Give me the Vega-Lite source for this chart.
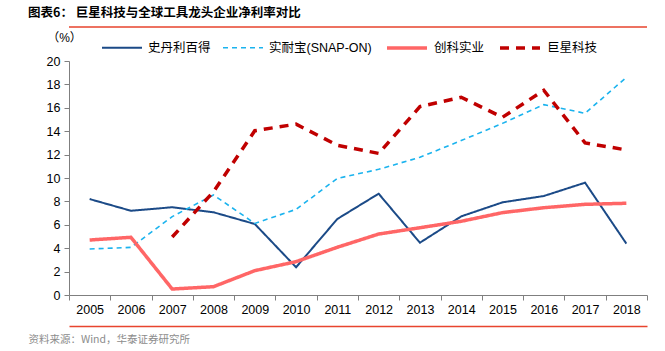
{
  "$schema": "https://vega.github.io/schema/vega-lite/v6.json",
  "autosize": {"type": "none"},
  "width": 578,
  "height": 234,
  "padding": {"left": 69, "top": 61, "right": 18, "bottom": 56},
  "background": "white",
  "config": {
    "font": "Liberation Sans, Noto Sans CJK SC",
    "view": {"stroke": null}
  },
  "title": {
    "text": "图表6：   巨星科技与全球工具龙头企业净利率对比",
    "anchor": "start",
    "frame": "group",
    "dx": -41,
    "offset": 7,
    "fontSize": 12.5,
    "fontWeight": "bold",
    "font": "Noto Sans CJK SC",
    "color": "#000000"
  },
  "data": {
    "values": [
      {"year": "2005", "company": "史丹利百得", "value": 8.2},
      {"year": "2006", "company": "史丹利百得", "value": 7.2},
      {"year": "2007", "company": "史丹利百得", "value": 7.5},
      {"year": "2008", "company": "史丹利百得", "value": 7.07},
      {"year": "2009", "company": "史丹利百得", "value": 6.07},
      {"year": "2010", "company": "史丹利百得", "value": 2.37},
      {"year": "2011", "company": "史丹利百得", "value": 6.5},
      {"year": "2012", "company": "史丹利百得", "value": 8.66},
      {"year": "2013", "company": "史丹利百得", "value": 4.47},
      {"year": "2014", "company": "史丹利百得", "value": 6.72},
      {"year": "2015", "company": "史丹利百得", "value": 7.92},
      {"year": "2016", "company": "史丹利百得", "value": 8.46},
      {"year": "2017", "company": "史丹利百得", "value": 9.6},
      {"year": "2018", "company": "史丹利百得", "value": 4.39},
      {"year": "2005", "company": "实耐宝(SNAP-ON)", "value": 3.93},
      {"year": "2006", "company": "实耐宝(SNAP-ON)", "value": 4.07},
      {"year": "2007", "company": "实耐宝(SNAP-ON)", "value": 6.7},
      {"year": "2008", "company": "实耐宝(SNAP-ON)", "value": 8.55},
      {"year": "2009", "company": "实耐宝(SNAP-ON)", "value": 6.12},
      {"year": "2010", "company": "实耐宝(SNAP-ON)", "value": 7.32},
      {"year": "2011", "company": "实耐宝(SNAP-ON)", "value": 9.97},
      {"year": "2012", "company": "实耐宝(SNAP-ON)", "value": 10.74},
      {"year": "2013", "company": "实耐宝(SNAP-ON)", "value": 11.77},
      {"year": "2014", "company": "实耐宝(SNAP-ON)", "value": 13.2},
      {"year": "2015", "company": "实耐宝(SNAP-ON)", "value": 14.67},
      {"year": "2016", "company": "实耐宝(SNAP-ON)", "value": 16.27},
      {"year": "2017", "company": "实耐宝(SNAP-ON)", "value": 15.53},
      {"year": "2018", "company": "实耐宝(SNAP-ON)", "value": 18.6},
      {"year": "2005", "company": "创科实业", "value": 4.7},
      {"year": "2006", "company": "创科实业", "value": 4.93},
      {"year": "2007", "company": "创科实业", "value": 0.51},
      {"year": "2008", "company": "创科实业", "value": 0.71},
      {"year": "2009", "company": "创科实业", "value": 2.08},
      {"year": "2010", "company": "创科实业", "value": 2.85},
      {"year": "2011", "company": "创科实业", "value": 4.08},
      {"year": "2012", "company": "创科实业", "value": 5.21},
      {"year": "2013", "company": "创科实业", "value": 5.75},
      {"year": "2014", "company": "创科实业", "value": 6.3},
      {"year": "2015", "company": "创科实业", "value": 7.04},
      {"year": "2016", "company": "创科实业", "value": 7.46},
      {"year": "2017", "company": "创科实业", "value": 7.75},
      {"year": "2018", "company": "创科实业", "value": 7.84},
      {"year": "2007", "company": "巨星科技", "value": 4.96},
      {"year": "2008", "company": "巨星科技", "value": 8.83},
      {"year": "2009", "company": "巨星科技", "value": 14.04},
      {"year": "2010", "company": "巨星科技", "value": 14.6},
      {"year": "2011", "company": "巨星科技", "value": 12.8},
      {"year": "2012", "company": "巨星科技", "value": 12.1},
      {"year": "2013", "company": "巨星科技", "value": 16.1},
      {"year": "2014", "company": "巨星科技", "value": 16.9},
      {"year": "2015", "company": "巨星科技", "value": 15.19},
      {"year": "2016", "company": "巨星科技", "value": 17.5},
      {"year": "2017", "company": "巨星科技", "value": 13.0},
      {"year": "2018", "company": "巨星科技", "value": 12.4}
    ]
  },
  "encoding": {
    "y": {
      "field": "value",
      "type": "quantitative",
      "scale": {"domain": [0, 20], "nice": false, "zero": true},
      "axis": {
        "values": [0, 2, 4, 6, 8, 10, 12, 14, 16, 18, 20],
        "grid": false,
        "domainColor": "#7f7f7f",
        "tickColor": "#7f7f7f",
        "tickSize": 5,
        "labelFontSize": 12.5,
        "labelColor": "#000000",
        "labelPadding": 4,
        "title": "（%）",
        "titleAngle": 0,
        "titleFontSize": 12,
        "titleFontWeight": "normal",
        "titleColor": "#000000",
        "titleAnchor": "start",
        "titleAlign": "center",
        "titleBaseline": "middle",
        "titleX": -5,
        "titleY": -24
      }
    },
    "color": {
      "field": "company",
      "type": "nominal",
      "scale": {
        "domain": ["史丹利百得", "实耐宝(SNAP-ON)", "创科实业", "巨星科技"],
        "range": ["#1B4A87", "#1BB3EE", "#FF6666", "#C00000"]
      },
      "legend": {
        "orient": "none",
        "legendX": 32,
        "legendY": -35,
        "direction": "horizontal",
        "title": null,
        "symbolType": "stroke",
        "symbolSize": 1600,
        "labelFontSize": 12.5,
        "labelColor": "#000000",
        "labelOffset": 5,
        "columnPadding": 8
      }
    },
    "strokeDash": {
      "field": "company",
      "type": "nominal",
      "scale": {
        "domain": ["史丹利百得", "实耐宝(SNAP-ON)", "创科实业", "巨星科技"],
        "range": [[1, 0], [5, 4], [1, 0], [9, 7]]
      },
      "legend": {
        "orient": "none",
        "legendX": 32,
        "legendY": -35,
        "direction": "horizontal",
        "title": null
      }
    },
    "strokeWidth": {
      "field": "company",
      "type": "ordinal",
      "scale": {
        "type": "ordinal",
        "domain": ["史丹利百得", "实耐宝(SNAP-ON)", "创科实业", "巨星科技"],
        "range": [2, 1.6, 3.5, 3.5]
      },
      "legend": {
        "orient": "none",
        "legendX": 32,
        "legendY": -35,
        "direction": "horizontal",
        "title": null
      }
    }
  },
  "layer": [
    {
      "transform": [{"filter": "datum.company == '史丹利百得' || datum.company == '实耐宝(SNAP-ON)'"}],
      "mark": {"type": "line"},
      "encoding": {
        "x": {
          "field": "year",
          "type": "ordinal",
          "scale": {"paddingInner": 0, "paddingOuter": 0},
          "axis": {
            "title": null,
            "labelAngle": 0,
            "tickBand": "extent",
            "domainColor": "#7f7f7f",
            "tickColor": "#7f7f7f",
            "tickSize": 5,
            "labelFontSize": 12.5,
            "labelColor": "#000000",
            "labelPadding": 3
          }
        }
      }
    },
    {
      "transform": [{"filter": "datum.company == '创科实业'"}],
      "mark": {"type": "line"},
      "encoding": {
        "x": {
          "field": "year",
          "type": "ordinal",
          "axis": null
        }
      }
    },
    {
      "transform": [{"filter": "datum.company == '巨星科技'"}],
      "mark": {"type": "line"},
      "encoding": {
        "x": {
          "field": "year",
          "type": "ordinal",
          "axis": {
            "orient": "bottom",
            "offset": 31,
            "labels": false,
            "ticks": false,
            "domain": true,
            "domainColor": "#E8442E",
            "domainWidth": 1.5,
            "title": "资料来源：Wind，华泰证券研究所",
            "titleFont": "Noto Sans CJK SC",
            "titleFontSize": 10.5,
            "titleFontWeight": "normal",
            "titleColor": "#8c8c8c",
            "titleAnchor": "start",
            "titleAlign": "left",
            "titleBaseline": "top",
            "titleX": -41,
            "titleY": 8
          }
        }
      }
    },
    {
      "transform": [{"filter": "datum.company == '史丹利百得' && datum.year == '2005'"}],
      "mark": {"type": "rule"},
      "encoding": {
        "y": {"datum": 22.9, "type": "quantitative"},
        "color": {"value": "#E8442E"},
        "strokeDash": {"value": [1, 0]},
        "strokeWidth": {"value": 1.5}
      }
    }
  ],
  "resolve": {"axis": {"x": "independent"}}
}
